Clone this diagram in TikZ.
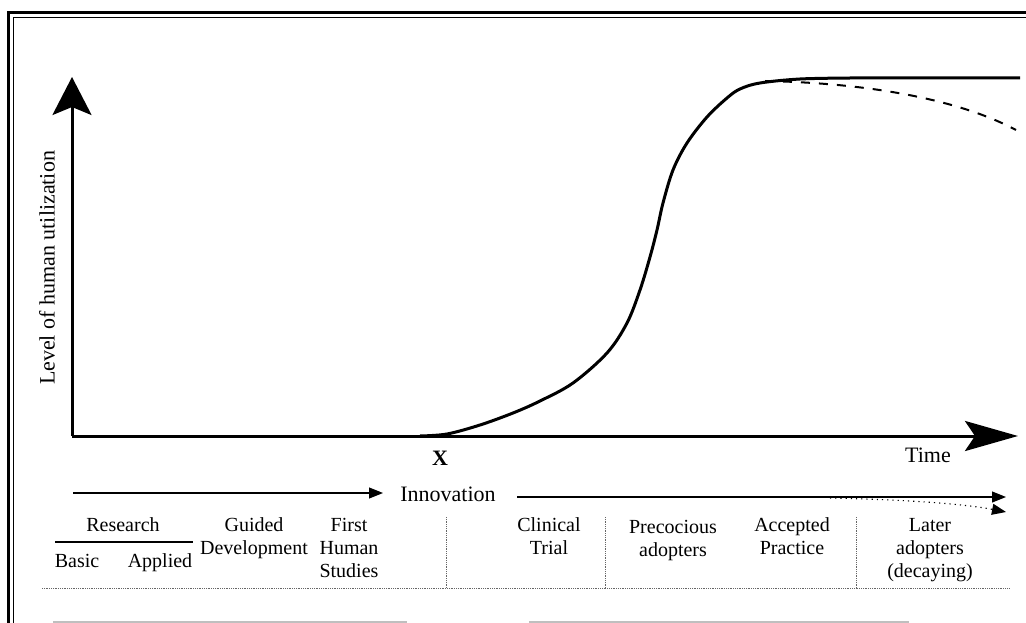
\documentclass[tikz,border=0pt]{standalone}
\usepackage{fontspec}
\setmainfont{Liberation Serif}
\usetikzlibrary{arrows.meta}
\begin{document}
\begin{tikzpicture}[x=1pt,y=-1pt,
  tbl/.style={font=\fontsize{20}{23}\selectfont, inner sep=0pt, align=center, anchor=base},
  axlbl/.style={font=\fontsize{22}{25}\selectfont, inner sep=0pt},
  axis/.style={line width=3pt},
  sepline/.style={black!60, line width=0.7pt, dash pattern=on 0.8pt off 1pt},
  innarrow/.style={line width=1.1pt, -{Triangle[length=14pt,width=11pt]}},
  framebar/.style={line width=1.5pt, black!25}]
\useasboundingbox (0,0) rectangle (1026,623);
% frame
\draw[line width=3pt] (8,630) -- (8,13) -- (1030,13);
\draw[line width=1.2pt] (13.5,630) -- (13.5,17.5) -- (1030,17.5);
\draw[framebar] (53,622) -- (407,622);
\draw[framebar] (529,622) -- (909,622);
% axes
\coordinate (O) at (72,436);
\coordinate (ytip) at (72,77);
\coordinate (xtip) at (1018,436);
\draw[axis, -{Stealth[length=38pt,width=39pt,inset=8pt]}] (O) -- (ytip);
\draw[axis, -{Stealth[length=53pt,width=30pt,inset=10pt]}] (O) -- (xtip);
\node[axlbl, rotate=90] (ylab) at (47,268) {Level of human utilization};
\node[axlbl, anchor=base] (time) at (928,462) {Time};
\node[font=\fontsize{22}{25}\selectfont\bfseries, inner sep=0pt, anchor=base] (X) at (440,465) {X};
% curve
\draw[line width=3pt, line join=round] plot[smooth, tension=0.55] coordinates {(420,436) (447,434) (480,425) (513,413) (540,401) (573,383) (607,353) (627,323) (640,290) (650,257) (657,230) (663,203) (673,170) (687,143) (707,117) (727,98) (740,89) (760,83) (800,79) (850,78)} -- (1020,78);
\draw[line width=2pt, dash pattern=on 9pt off 9pt] (765,81) .. controls (870,83) and (960,100) .. (1016,130);
% innovation
\node[axlbl, anchor=base] (inn) at (448,501) {Innovation};
\coordinate (ia1) at (73,493);
\coordinate (ia2) at (383,493);
\coordinate (ib1) at (517,497);
\coordinate (ib2) at (1006,497);
\coordinate (ic1) at (830,498);
\coordinate (ic2) at (1006,512);
\draw[innarrow] (ia1) -- (ia2);
\draw[innarrow] (ib1) -- (ib2);
\draw[line width=1.1pt, dash pattern=on 1.2pt off 4pt, -{Triangle[length=14pt,width=11pt]}] (ic1) .. controls (920,500) and (970,505) .. (ic2);
% table (base anchor = baseline of last line)
\node[tbl] (research) at (123,531) {Research};
\coordinate (rl1) at (55,542);
\coordinate (rl2) at (193,542);
\draw[line width=1.2pt] (rl1) -- (rl2);
\node[tbl] (basic) at (77,567) {Basic};
\node[tbl] (applied) at (160,567) {Applied};
\node[tbl] (guided) at (254,554) {Guided\\Development};
\node[tbl] (first) at (349,577) {First\\Human\\Studies};
\node[tbl] (clinical) at (549,554) {Clinical\\Trial};
\node[tbl] (preco) at (673,556) {Precocious\\adopters};
\node[tbl] (accepted) at (792,554) {Accepted\\Practice};
\node[tbl] (later) at (930,577) {Later\\adopters\\(decaying)};
\coordinate (hl1) at (42,588);
\coordinate (hl2) at (1010,588);
\draw[sepline] (hl1) -- (hl2);
\foreach \xx/\nm in {446/s1,605/s2,856/s3}{
  \coordinate (\nm a) at (\xx,517);
  \coordinate (\nm b) at (\xx,588);
  \draw[sepline] (\nm a) -- (\nm b);
}
\end{tikzpicture}
\end{document}
